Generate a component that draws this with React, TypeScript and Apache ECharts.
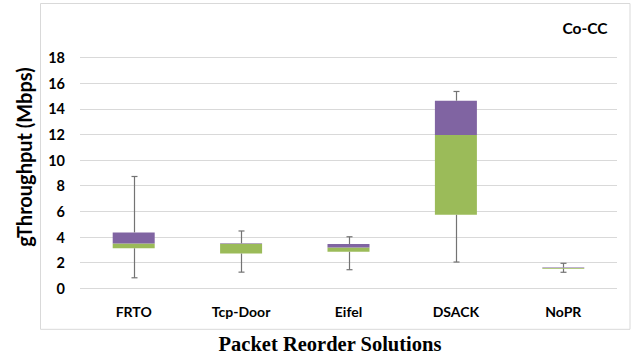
import React, { useEffect, useRef } from "react";
import * as echarts from "echarts";

const categories = ["FRTO", "Tcp-Door", "Eifel", "DSACK", "NoPR"];
const minVals = [0.82, 1.26, 1.45, 2.05, 1.25];
const q1Vals = [3.12, 2.71, 2.85, 5.73, 1.53];
const medianVals = [3.49, 3.47, 3.19, 11.95, 1.58];
const q3Vals = [4.36, 3.51, 3.45, 14.63, 1.62];
const maxVals = [8.72, 4.47, 4.02, 15.35, 1.95];
const yTicks = [0, 2, 4, 6, 8, 10, 12, 14, 16, 18];

const chartTitle = "Co-CC";
const yTitle = "gThroughput (Mbps)";
const xTitle = "Packet Reorder Solutions";

export default function App() {
  const ref = useRef<HTMLDivElement>(null);
  useEffect(() => {
    if (!ref.current) return;
    const chart = echarts.init(ref.current, null, { renderer: "svg" });
    const greenVals = medianVals.map((m, i) => +(m - q1Vals[i]).toFixed(3));
    const purpleVals = q3Vals.map((q, i) => +(q - medianVals[i]).toFixed(3));
    const whiskerData = categories.map((_, i) => [i, minVals[i], q1Vals[i], q3Vals[i], maxVals[i]]);
    const font = "Lato, 'Open Sans', sans-serif";
    chart.setOption({
      animation: false,
      backgroundColor: "#ffffff",
      grid: { left: 80, right: 15, top: 57.5, bottom: 67.7, containLabel: false },
      graphic: [
        {
          type: "rect",
          shape: { x: 40.5, y: 3.5, width: 589.5, height: 325.8 },
          style: { fill: "none", stroke: "#d9d9d9", lineWidth: 1 },
          silent: true,
        },
        {
          type: "text",
          x: 585,
          y: 28,
          style: { text: chartTitle, font: `bold 15.5px ${font}`, fill: "#000", textAlign: "center", textVerticalAlign: "middle" },
        },
        {
          type: "text",
          x: 24,
          y: 157,
          rotation: Math.PI / 2,
          style: { text: yTitle, font: `bold 20px ${font}`, fill: "#000", textAlign: "center", textVerticalAlign: "middle" },
        },
        {
          type: "text",
          x: 330,
          y: 344,
          style: { text: xTitle, font: "bold 20.5px 'Liberation Serif', 'Times New Roman', serif", fill: "#000", textAlign: "center", textVerticalAlign: "middle" },
        },
      ],
      xAxis: {
        type: "category",
        data: categories,
        axisLine: { show: false },
        axisTick: { show: false },
        axisLabel: { color: "#000", fontFamily: font, fontWeight: "bold", fontSize: 14, margin: 16 },
        splitLine: { show: false },
      },
      yAxis: {
        type: "value",
        min: yTicks[0],
        max: yTicks[yTicks.length - 1],
        interval: 2,
        axisLine: { show: false },
        axisTick: { show: false },
        axisLabel: { color: "#000", fontFamily: font, fontWeight: "bold", fontSize: 14.5, margin: 15 },
        splitLine: { show: true, lineStyle: { color: "#d9d9d9", width: 1 } },
      },
      series: [
        {
          type: "bar",
          name: "base",
          stack: "box",
          data: q1Vals,
          barWidth: 42,
          itemStyle: { color: "transparent" },
          silent: true,
        },
        {
          type: "bar",
          name: "lower",
          stack: "box",
          data: greenVals,
          barWidth: 42,
          itemStyle: { color: "#9bbb59" },
        },
        {
          type: "bar",
          name: "upper",
          stack: "box",
          data: purpleVals,
          barWidth: 42,
          itemStyle: { color: "#8064a2" },
        },
        {
          type: "custom",
          name: "whisker",
          data: whiskerData,
          z: 5,
          renderItem: (params: any, api: any) => {
            const i = api.value(0);
            const pMin = api.coord([i, api.value(1)]);
            const pQ1 = api.coord([i, api.value(2)]);
            const pQ3 = api.coord([i, api.value(3)]);
            const pMax = api.coord([i, api.value(4)]);
            const x = Math.round(pMin[0]) + 0.5;
            const hw = 3;
            const st = { stroke: "#737373", lineWidth: 1.2 };
            return {
              type: "group",
              children: [
                { type: "line", shape: { x1: x, y1: pMax[1], x2: x, y2: pQ3[1] }, style: st },
                { type: "line", shape: { x1: x - hw, y1: pMax[1], x2: x + hw, y2: pMax[1] }, style: st },
                { type: "line", shape: { x1: x, y1: pMin[1], x2: x, y2: pQ1[1] }, style: st },
                { type: "line", shape: { x1: x - hw, y1: pMin[1], x2: x + hw, y2: pMin[1] }, style: st },
              ],
            };
          },
        },
      ],
    });
    return () => chart.dispose();
  }, []);
  return <div ref={ref} style={{ position: "fixed", left: 0, top: 0, width: 632, height: 356 }} />;
}
